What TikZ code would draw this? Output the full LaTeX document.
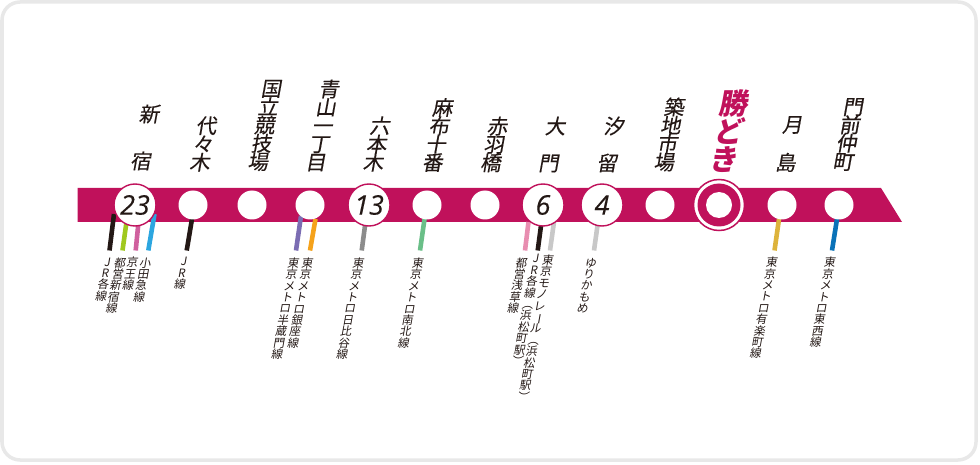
\documentclass[tikz,border=0pt]{standalone}
\usepackage{fontspec}
\usepackage{graphicx}
\newfontfamily\cjk[FakeBold=0.25]{Noto Sans CJK JP}
\newfontfamily\cjkm[FakeBold=0.7]{Noto Sans CJK JP}
\newfontfamily\cjkl{Noto Sans CJK JP}
\newfontfamily\numfont[FakeBold=0.3]{Open Sans}
\newcommand\stf[1]{\cjk\fontsize{20.5}{#1}\selectfont\lineskiplimit=-100pt\relax}
\newcommand\stbf{\cjkm\fontsize{20.5}{18.3}\selectfont\lineskiplimit=-100pt\relax}
\newcommand\katf{\cjkl\bfseries\fontsize{29}{28}\selectfont\lineskiplimit=-100pt\relax}
\newcommand\lbf{\cjkl\fontsize{11.5}{11.4}\selectfont\lineskiplimit=-100pt\relax}
\newcommand\choon{\rotatebox[origin=c]{-90}{ー}}
\definecolor{line}{HTML}{C0115B}
\definecolor{frameg}{HTML}{E8E8E8}
\definecolor{cblack}{HTML}{231815}
\definecolor{cgreen}{HTML}{A0C81E}
\definecolor{cpink}{HTML}{D0609E}
\definecolor{cblue}{HTML}{2CA6E0}
\definecolor{cpurple}{HTML}{7B6DB3}
\definecolor{corange}{HTML}{F5A21B}
\definecolor{cgray}{HTML}{8C8C8C}
\definecolor{cmint}{HTML}{6ABF88}
\definecolor{crose}{HTML}{E88DB0}
\definecolor{clight}{HTML}{C8C8C8}
\definecolor{cyellow}{HTML}{DDB33B}
\definecolor{cdeep}{HTML}{0A72B8}
\tikzset{
  x=1pt,y=1pt,
  slanted/.style={xslant=0.18,transform shape,align=center,inner sep=0pt},
  stname/.style={slanted,font=\stf{#1},text=cblack},
  stname/.default={18.3},
  lnlabel/.style={slanted,font=\lbf,text=cblack},
  stopa/.style={circle,fill=white,minimum size=29pt,inner sep=0pt},
  stopb/.style={circle,fill=white,draw=line,line width=1.4pt,minimum size=42pt,inner sep=0pt,font=\numfont\itshape\fontsize{27}{27}\selectfont,text=cblack},
  tickline/.style={line width=4.6pt}
}
\newcommand\tickln[6]{%
  \coordinate (#1a) at (#3,-#4);
  \coordinate (#1b) at (#5,-#6);
  \draw[tickline,draw=#2] (#1a) -- (#1b);}
\begin{document}
\begin{tikzpicture}
\useasboundingbox (0,0) rectangle (980,-465);
\draw[frameg,line width=3.5pt,rounded corners=18pt,fill=white] (2,-2) rectangle (976,-460);
\fill[line] (77.5,-188) -- (881,-188) -- (902,-222) -- (77.5,-222) -- cycle;
% transfer lines
\tickln{jra}{cblack}{114}{214}{109.5}{250.5}
\tickln{tos}{cgreen}{126.5}{222}{122.5}{250.5}
\tickln{keio}{cpink}{138.5}{222}{135.7}{250.5}
\tickln{oda}{cblue}{154.5}{214}{148.3}{250.5}
\tickln{jrb}{cblack}{192}{219}{186.7}{250.5}
\tickln{gin}{cpurple}{301}{216}{296}{250.5}
\tickln{han}{corange}{315.5}{219}{310}{250.5}
\tickln{hib}{cgray}{365.5}{222}{361.7}{250.5}
\tickln{nan}{cmint}{424.5}{219}{420}{250.5}
\tickln{asa}{crose}{528.5}{222}{525}{250.5}
\tickln{jrc}{cblack}{541.5}{222}{537.7}{250.5}
\tickln{mon}{clight}{554}{222}{550}{250.5}
\tickln{yur}{clight}{598}{222}{594}{250.5}
\tickln{yur2}{cyellow}{779}{219}{774.5}{250.5}
\tickln{toz}{cdeep}{837}{219}{832}{250.5}
% stops
\node[stopb] (s1) at (135,-205) {23};
\node[stopa] (s2) at (193,-205) {};
\node[stopa] (s3) at (252,-205) {};
\node[stopa] (s4) at (310,-205) {};
\node[stopb] (s5) at (369,-205) {13};
\node[stopa] (s6) at (427,-205) {};
\node[stopa] (s7) at (485,-205) {};
\node[stopb] (s8) at (543,-205) {6};
\node[stopb] (s9) at (602,-205) {4};
\node[stopa] (s10) at (660,-205) {};
\node[circle,draw=line,line width=1.5pt,fill=white,minimum size=51pt,inner sep=0pt] (s11o) at (719,-205) {};
\node[circle,fill=line,minimum size=43pt,inner sep=0pt] (s11m) at (s11o) {};
\node[circle,fill=white,minimum size=26pt,inner sep=0pt] (s11) at (s11o) {};
\node[stopa] (s12) at (782,-205) {};
\node[stopa] (s13) at (839,-205) {};
% station names
\node[stname=47] (n1) at (146,-137.5) {新\\宿};
\node[stname] (n2) at (204,-144) {代\\々\\木};
\node[stname] (n3) at (265.5,-125.5) {国\\立\\競\\技\\場};
\node[stname] (n4) at (323.5,-125.5) {青\\山\\一\\丁\\目};
\node[stname] (n5) at (377.5,-144) {六\\本\\木};
\node[stname] (n6) at (438.5,-135) {麻\\布\\十\\番};
\node[stname] (n7) at (495,-144.5) {赤\\羽\\橋};
\node[stname=37] (n8) at (553,-144.5) {大\\門};
\node[stname=37] (n9) at (611.5,-144.5) {汐\\留};
\node[stname] (n10) at (670,-134.5) {築\\地\\市\\場};
\node[slanted,font=\katf,text=line] (n11) at (730,-131) {勝\\ど\\き};
\node[stname=38] (n12) at (790,-144) {月\\島};
\node[slanted,font=\stbf,text=cblack] (n13) at (849,-134.5) {門\\前\\仲\\町};
% line labels
\node[lnlabel] (l1) at (104.5,-279.5) {J\\R\\各\\線};
\node[lnlabel] (l2) at (116,-285.5) {都\\営\\新\\宿\\線};
\node[lnlabel] (l3) at (130.5,-274) {京\\王\\線};
\node[lnlabel] (l4) at (142.5,-280) {小\\田\\急\\線};
\node[lnlabel] (l5) at (182,-273.5) {J\\R\\線};
\node[lnlabel] (l6) at (300.5,-303) {東\\京\\メ\\ト\\ロ\\銀\\座\\線};
\node[lnlabel] (l7) at (285.5,-308.5) {東\\京\\メ\\ト\\ロ\\半\\蔵\\門\\線};
\node[lnlabel] (l8) at (350.5,-308.5) {東\\京\\メ\\ト\\ロ\\日\\比\\谷\\線};
\node[lnlabel] (l9) at (411,-303) {東\\京\\メ\\ト\\ロ\\南\\北\\線};
\node[lnlabel] (l10) at (517.5,-285.5) {都\\営\\浅\\草\\線};
\node[lnlabel] (l11) at (527,-310) {J\\R\\各\\線\\︵\\浜\\松\\町\\駅\\︶};
\node[lnlabel] (l12) at (536,-328) {東\\京\\モ\\ノ\\レ\\\choon\\ル\\︵\\浜\\松\\町\\駅\\︶};
\node[lnlabel] (l13) at (587,-285.5) {ゆ\\り\\か\\も\\め};
\node[lnlabel] (l14) at (764,-308) {東\\京\\メ\\ト\\ロ\\有\\楽\\町\\線};
\node[lnlabel] (l15) at (823,-302.5) {東\\京\\メ\\ト\\ロ\\東\\西\\線};
\end{tikzpicture}
\end{document}
